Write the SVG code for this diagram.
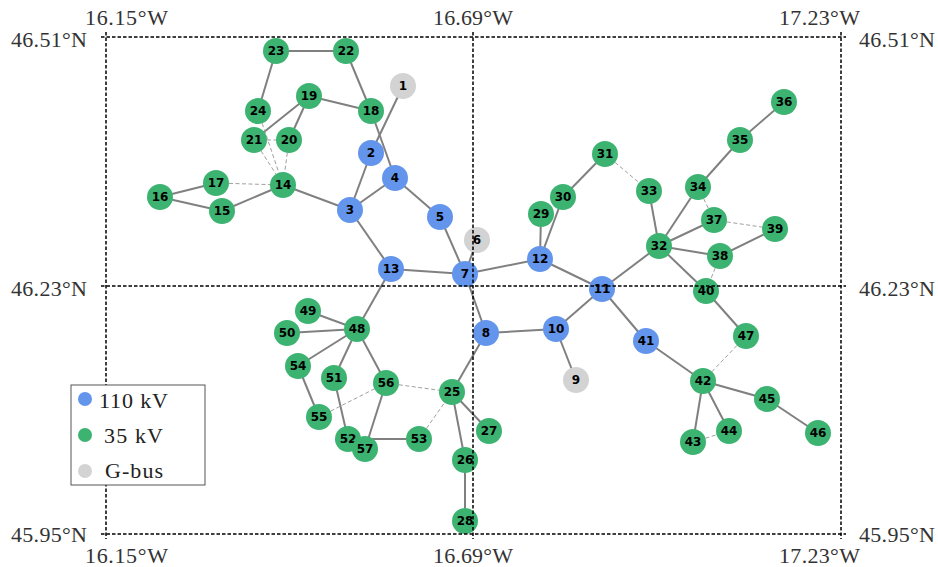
<svg xmlns="http://www.w3.org/2000/svg" width="938" height="567" viewBox="0 0 938 567">
<style>
.e{stroke:#808080;stroke-width:2;fill:none}
.d{stroke:#a0a0a0;stroke-width:1;stroke-dasharray:4,2.5;fill:none}
.b{fill:#6495ED}
.g{fill:#3CB371}
.x{fill:#D3D3D3}
.n text{font-family:"DejaVu Sans",sans-serif;font-weight:bold;font-size:12px;fill:#000;text-anchor:middle;dominant-baseline:central}
.grid{stroke:#000;stroke-width:1.5;stroke-dasharray:3.5,2;fill:none}
.ax{font-family:"Liberation Serif",serif;font-size:22px;fill:#333}
.lg{font-family:"Liberation Serif",serif;font-size:22px;fill:#222}
</style>
<rect width="938" height="567" fill="#fff"/>
<g id="connectors">
<line class="e" x1="276" y1="51" x2="346" y2="51"/>
<line class="e" x1="276" y1="51" x2="258" y2="111"/>
<line class="e" x1="346" y1="51" x2="371" y2="111"/>
<line class="e" x1="309" y1="96" x2="371" y2="111"/>
<line class="e" x1="309" y1="96" x2="254" y2="140"/>
<line class="e" x1="309" y1="96" x2="289" y2="140"/>
<line class="e" x1="371" y1="111" x2="395" y2="178"/>
<line class="e" x1="403" y1="86" x2="371" y2="153"/>
<line class="e" x1="371" y1="153" x2="350" y2="210"/>
<line class="e" x1="395" y1="178" x2="350" y2="210"/>
<line class="e" x1="395" y1="178" x2="440" y2="217"/>
<line class="e" x1="283" y1="185" x2="350" y2="210"/>
<line class="e" x1="283" y1="185" x2="222" y2="211"/>
<line class="e" x1="160" y1="197" x2="216" y2="183"/>
<line class="e" x1="160" y1="197" x2="222" y2="211"/>
<line class="e" x1="350" y1="210" x2="391" y2="269"/>
<line class="e" x1="440" y1="217" x2="465" y2="274"/>
<line class="e" x1="391" y1="269" x2="465" y2="274"/>
<line class="e" x1="477" y1="240" x2="465" y2="274"/>
<line class="e" x1="465" y1="274" x2="540" y2="259"/>
<line class="e" x1="465" y1="274" x2="486" y2="333"/>
<line class="e" x1="540" y1="259" x2="541" y2="214"/>
<line class="e" x1="540" y1="259" x2="563" y2="197"/>
<line class="e" x1="563" y1="197" x2="605" y2="154"/>
<line class="e" x1="540" y1="259" x2="602" y2="289"/>
<line class="e" x1="602" y1="289" x2="659" y2="246"/>
<line class="e" x1="602" y1="289" x2="556" y2="329"/>
<line class="e" x1="602" y1="289" x2="646" y2="341"/>
<line class="e" x1="556" y1="329" x2="486" y2="333"/>
<line class="e" x1="556" y1="329" x2="576" y2="380"/>
<line class="e" x1="649" y1="191" x2="659" y2="246"/>
<line class="e" x1="698" y1="187" x2="659" y2="246"/>
<line class="e" x1="698" y1="187" x2="740" y2="140"/>
<line class="e" x1="740" y1="140" x2="784" y2="102"/>
<line class="e" x1="659" y1="246" x2="714" y2="220"/>
<line class="e" x1="659" y1="246" x2="720" y2="256"/>
<line class="e" x1="720" y1="256" x2="775" y2="229"/>
<line class="e" x1="659" y1="246" x2="706" y2="291"/>
<line class="e" x1="706" y1="291" x2="746" y2="336"/>
<line class="e" x1="646" y1="341" x2="703" y2="381"/>
<line class="e" x1="703" y1="381" x2="767" y2="399"/>
<line class="e" x1="767" y1="399" x2="818" y2="433"/>
<line class="e" x1="703" y1="381" x2="693" y2="442"/>
<line class="e" x1="703" y1="381" x2="729" y2="431"/>
<line class="e" x1="391" y1="269" x2="357" y2="329"/>
<line class="e" x1="357" y1="329" x2="308" y2="311"/>
<line class="e" x1="357" y1="329" x2="287" y2="333"/>
<line class="e" x1="357" y1="329" x2="298" y2="366"/>
<line class="e" x1="357" y1="329" x2="334" y2="378"/>
<line class="e" x1="357" y1="329" x2="386" y2="383"/>
<line class="e" x1="298" y1="366" x2="319" y2="417"/>
<line class="e" x1="334" y1="378" x2="348" y2="439"/>
<line class="e" x1="386" y1="383" x2="365" y2="449"/>
<line class="e" x1="348" y1="439" x2="419" y2="439"/>
<line class="e" x1="486" y1="333" x2="452" y2="392"/>
<line class="e" x1="452" y1="392" x2="465" y2="460"/>
<line class="e" x1="452" y1="392" x2="489" y2="431"/>
<line class="e" x1="465" y1="460" x2="465" y2="521"/>
<line class="d" x1="258" y1="111" x2="283" y2="185"/>
<line class="d" x1="254" y1="140" x2="283" y2="185"/>
<line class="d" x1="289" y1="140" x2="283" y2="185"/>
<line class="d" x1="254" y1="140" x2="289" y2="140"/>
<line class="d" x1="216" y1="183" x2="283" y2="185"/>
<line class="d" x1="605" y1="154" x2="649" y2="191"/>
<line class="d" x1="698" y1="187" x2="714" y2="220"/>
<line class="d" x1="714" y1="220" x2="775" y2="229"/>
<line class="d" x1="720" y1="256" x2="706" y2="291"/>
<line class="d" x1="746" y1="336" x2="703" y2="381"/>
<line class="d" x1="693" y1="442" x2="729" y2="431"/>
<line class="d" x1="319" y1="417" x2="386" y2="383"/>
<line class="d" x1="386" y1="383" x2="452" y2="392"/>
<line class="d" x1="419" y1="439" x2="452" y2="392"/>
</g>
<g id="nodes" class="n">
<g id="n1"><circle class="x" cx="403" cy="86" r="13"/><text x="403" y="86">1</text></g>
<g id="n2"><circle class="b" cx="371" cy="153" r="13"/><text x="371" y="153">2</text></g>
<g id="n3"><circle class="b" cx="350" cy="210" r="13"/><text x="350" y="210">3</text></g>
<g id="n4"><circle class="b" cx="395" cy="178" r="13"/><text x="395" y="178">4</text></g>
<g id="n5"><circle class="b" cx="440" cy="217" r="13"/><text x="440" y="217">5</text></g>
<g id="n6"><circle class="x" cx="477" cy="240" r="13"/><text x="477" y="240">6</text></g>
<g id="n7"><circle class="b" cx="465" cy="274" r="13"/><text x="465" y="274">7</text></g>
<g id="n8"><circle class="b" cx="486" cy="333" r="13"/><text x="486" y="333">8</text></g>
<g id="n9"><circle class="x" cx="576" cy="380" r="13"/><text x="576" y="380">9</text></g>
<g id="n10"><circle class="b" cx="556" cy="329" r="13"/><text x="556" y="329">10</text></g>
<g id="n11"><circle class="b" cx="602" cy="289" r="13"/><text x="602" y="289">11</text></g>
<g id="n12"><circle class="b" cx="540" cy="259" r="13"/><text x="540" y="259">12</text></g>
<g id="n13"><circle class="b" cx="391" cy="269" r="13"/><text x="391" y="269">13</text></g>
<g id="n14"><circle class="g" cx="283" cy="185" r="13"/><text x="283" y="185">14</text></g>
<g id="n15"><circle class="g" cx="222" cy="211" r="13"/><text x="222" y="211">15</text></g>
<g id="n16"><circle class="g" cx="160" cy="197" r="13"/><text x="160" y="197">16</text></g>
<g id="n17"><circle class="g" cx="216" cy="183" r="13"/><text x="216" y="183">17</text></g>
<g id="n18"><circle class="g" cx="371" cy="111" r="13"/><text x="371" y="111">18</text></g>
<g id="n19"><circle class="g" cx="309" cy="96" r="13"/><text x="309" y="96">19</text></g>
<g id="n20"><circle class="g" cx="289" cy="140" r="13"/><text x="289" y="140">20</text></g>
<g id="n21"><circle class="g" cx="254" cy="140" r="13"/><text x="254" y="140">21</text></g>
<g id="n22"><circle class="g" cx="346" cy="51" r="13"/><text x="346" y="51">22</text></g>
<g id="n23"><circle class="g" cx="276" cy="51" r="13"/><text x="276" y="51">23</text></g>
<g id="n24"><circle class="g" cx="258" cy="111" r="13"/><text x="258" y="111">24</text></g>
<g id="n25"><circle class="g" cx="452" cy="392" r="13"/><text x="452" y="392">25</text></g>
<g id="n26"><circle class="g" cx="465" cy="460" r="13"/><text x="465" y="460">26</text></g>
<g id="n27"><circle class="g" cx="489" cy="431" r="13"/><text x="489" y="431">27</text></g>
<g id="n28"><circle class="g" cx="465" cy="521" r="13"/><text x="465" y="521">28</text></g>
<g id="n29"><circle class="g" cx="541" cy="214" r="13"/><text x="541" y="214">29</text></g>
<g id="n30"><circle class="g" cx="563" cy="197" r="13"/><text x="563" y="197">30</text></g>
<g id="n31"><circle class="g" cx="605" cy="154" r="13"/><text x="605" y="154">31</text></g>
<g id="n32"><circle class="g" cx="659" cy="246" r="13"/><text x="659" y="246">32</text></g>
<g id="n33"><circle class="g" cx="649" cy="191" r="13"/><text x="649" y="191">33</text></g>
<g id="n34"><circle class="g" cx="698" cy="187" r="13"/><text x="698" y="187">34</text></g>
<g id="n35"><circle class="g" cx="740" cy="140" r="13"/><text x="740" y="140">35</text></g>
<g id="n36"><circle class="g" cx="784" cy="102" r="13"/><text x="784" y="102">36</text></g>
<g id="n37"><circle class="g" cx="714" cy="220" r="13"/><text x="714" y="220">37</text></g>
<g id="n38"><circle class="g" cx="720" cy="256" r="13"/><text x="720" y="256">38</text></g>
<g id="n39"><circle class="g" cx="775" cy="229" r="13"/><text x="775" y="229">39</text></g>
<g id="n40"><circle class="g" cx="706" cy="291" r="13"/><text x="706" y="291">40</text></g>
<g id="n41"><circle class="b" cx="646" cy="341" r="13"/><text x="646" y="341">41</text></g>
<g id="n42"><circle class="g" cx="703" cy="381" r="13"/><text x="703" y="381">42</text></g>
<g id="n43"><circle class="g" cx="693" cy="442" r="13"/><text x="693" y="442">43</text></g>
<g id="n44"><circle class="g" cx="729" cy="431" r="13"/><text x="729" y="431">44</text></g>
<g id="n45"><circle class="g" cx="767" cy="399" r="13"/><text x="767" y="399">45</text></g>
<g id="n46"><circle class="g" cx="818" cy="433" r="13"/><text x="818" y="433">46</text></g>
<g id="n47"><circle class="g" cx="746" cy="336" r="13"/><text x="746" y="336">47</text></g>
<g id="n48"><circle class="g" cx="357" cy="329" r="13"/><text x="357" y="329">48</text></g>
<g id="n49"><circle class="g" cx="308" cy="311" r="13"/><text x="308" y="311">49</text></g>
<g id="n50"><circle class="g" cx="287" cy="333" r="13"/><text x="287" y="333">50</text></g>
<g id="n51"><circle class="g" cx="334" cy="378" r="13"/><text x="334" y="378">51</text></g>
<g id="n52"><circle class="g" cx="348" cy="439" r="13"/><text x="348" y="439">52</text></g>
<g id="n53"><circle class="g" cx="419" cy="439" r="13"/><text x="419" y="439">53</text></g>
<g id="n54"><circle class="g" cx="298" cy="366" r="13"/><text x="298" y="366">54</text></g>
<g id="n55"><circle class="g" cx="319" cy="417" r="13"/><text x="319" y="417">55</text></g>
<g id="n56"><circle class="g" cx="386" cy="383" r="13"/><text x="386" y="383">56</text></g>
<g id="n57"><circle class="g" cx="365" cy="449" r="13"/><text x="365" y="449">57</text></g>
</g>
<g id="grid">
<line class="grid" x1="101" y1="37" x2="846" y2="37"/>
<line class="grid" x1="101" y1="286" x2="846" y2="286"/>
<line class="grid" x1="101" y1="534" x2="846" y2="534"/>
<line class="grid" x1="106" y1="32" x2="106" y2="539"/>
<line class="grid" x1="473" y1="32" x2="473" y2="539"/>
<line class="grid" x1="841" y1="32" x2="841" y2="539"/>
</g>
<g id="axis-labels" class="ax">
<text x="85" y="25" textLength="83">16.15°W</text>
<text x="433" y="25" textLength="80">16.69°W</text>
<text x="779" y="25" textLength="81">17.23°W</text>
<text x="85" y="563" textLength="83">16.15°W</text>
<text x="433" y="563" textLength="80">16.69°W</text>
<text x="779" y="563" textLength="81">17.23°W</text>
<text x="11" y="47" textLength="76">46.51°N</text>
<text x="11" y="296" textLength="76">46.23°N</text>
<text x="11" y="542" textLength="76">45.95°N</text>
<text x="859" y="47" textLength="76">46.51°N</text>
<text x="859" y="296" textLength="76">46.23°N</text>
<text x="859" y="542" textLength="76">45.95°N</text>
</g>
<g id="legend">
<rect x="71" y="385" width="134" height="100" fill="#fff" stroke="#555" stroke-width="1"/>
<circle class="b" cx="85" cy="399" r="7"/>
<circle class="g" cx="85" cy="435" r="7"/>
<circle class="x" cx="85" cy="471" r="7"/>
<text class="lg" x="99" y="408" textLength="69">110 kV</text>
<text class="lg" x="104" y="443" textLength="59">35 kV</text>
<text class="lg" x="105" y="478" textLength="58">G-bus</text>
</g>
</svg>
